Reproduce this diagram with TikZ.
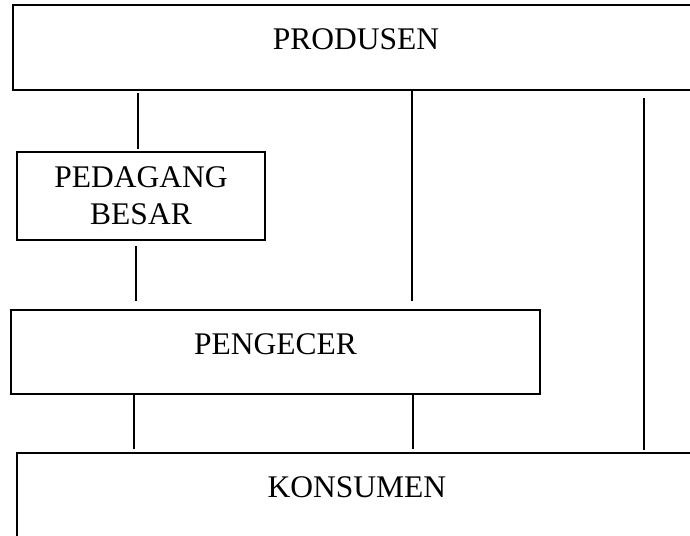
\documentclass[tikz,border=0pt]{standalone}
\usepackage{fontspec}
\setmainfont{Liberation Serif}
\usetikzlibrary{calc}
\begin{document}
\begin{tikzpicture}[x=1pt,y=-1pt,
  box/.style={draw, line width=2pt, rectangle, inner sep=0pt,
    font=\fontsize{31.5}{37}\selectfont, align=center},
  oneline/.style={text depth=16pt},
  link/.style={draw, line width=1.1pt}]
  \useasboundingbox (0,0) rectangle (690,535);
  \clip (0,0) rectangle (690,535);

  % boxes
  \node[box, oneline, minimum width=686pt, minimum height=85pt] (prod) at (356,47.5) {PRODUSEN};
  \node[box, minimum width=248pt, minimum height=88pt] (ped) at (141,196) {PEDAGANG\\BESAR};
  \node[box, oneline, minimum width=529pt, minimum height=84pt] (pen) at (275.5,352) {PENGECER};
  \node[box, oneline, minimum width=680pt, minimum height=85pt] (kon) at (357,495.5) {KONSUMEN};

  % columns of the channels
  \coordinate (ca) at (138,0);
  \coordinate (cb) at (136,0);
  \coordinate (cc) at (412,0);
  \coordinate (cd) at (644,0);
  \coordinate (ce) at (134,0);
  \coordinate (cf) at (413,0);

  % connectors
  \draw[link] ($(prod.south -| ca)+(0,2)$) -- ($(ped.north -| ca)+(0,-2)$);
  \draw[link] ($(ped.south -| cb)+(0,5)$) -- ($(pen.north -| cb)+(0,-8)$);
  \draw[link] (prod.south -| cc) -- ($(pen.north -| cc)+(0,-8)$);
  \draw[link] ($(prod.south -| cd)+(0,7)$) -- ($(kon.north -| cd)+(0,-2)$);
  \draw[link] (pen.south -| ce) -- ($(kon.north -| ce)+(0,-3)$);
  \draw[link] (pen.south -| cf) -- ($(kon.north -| cf)+(0,-3)$);
\end{tikzpicture}
\end{document}
